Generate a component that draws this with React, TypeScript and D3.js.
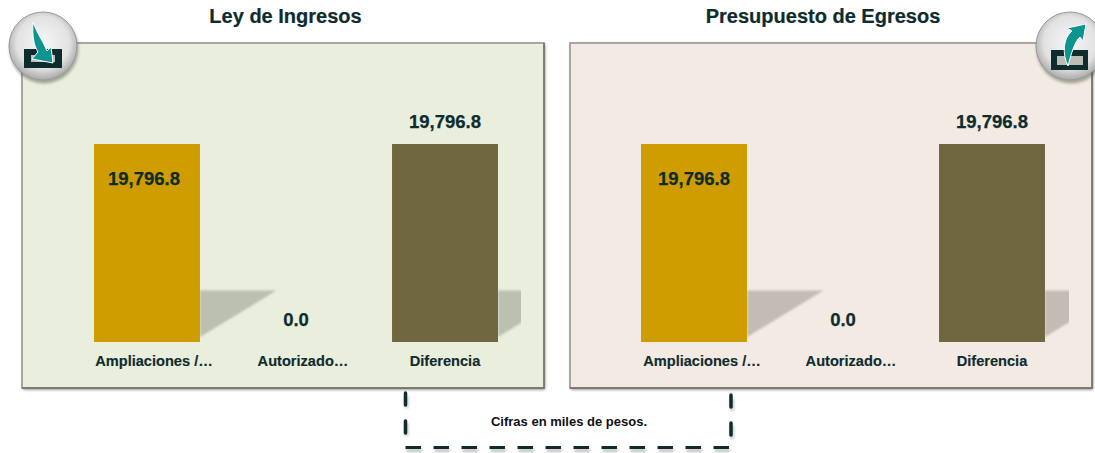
import React from "react";
import * as d3 from "d3";

const categories = ["Ampliaciones /…", "Autorizado…", "Diferencia"];
const ingresos = [19796.8, 0, 19796.8];
const egresos = [19796.8, 0, 19796.8];
const barColors = ["#cf9d00", "#cf9d00", "#706640"];
const dark = "#0e2c2e";
const FONT = "'Liberation Sans', Arial, sans-serif";
const fmt = d3.format(",.1f");

type PanelProps = { x: number; title: string; titleX: number; values: number[]; fill: string; shade: string; id: string; firstLabelDy: number; barShift: number; labelShift: number };

function Panel({ x, title, titleX, values, fill, shade, id, firstLabelDy, barShift, labelShift }: PanelProps) {
  const w = 522, h = 345, top = 43;
  const xs = d3.scaleBand<string>().domain(categories).range([x + 50.5 + barShift, x + 497.5 + barShift]).paddingInner(0.289).paddingOuter(0.1445);
  const ys = d3.scaleLinear().domain([0, 19796.8]).range([342, 144]);
  const bw = xs.bandwidth();
  return (
    <g>
      <text x={titleX} y={23} textAnchor="middle" fontSize={20} fontWeight="bold" fill={dark} stroke={dark} strokeWidth={0.2}>{title}</text>
      <defs>
        <clipPath id={id}><rect x={x + 22} y={top} width={477} height={h} /></clipPath>
      </defs>
      <rect x={x + 1} y={top + 1} width={w} height={h + 0.5} fill="#000" opacity={0.5} filter="url(#soft)" />
      <rect x={x} y={top} width={w} height={h} fill={fill} stroke="#96968e" strokeWidth={1.6} />
      <path d={`M${x + w},${top} V${top + h} H${x}`} fill="none" stroke="#6f6f68" strokeWidth={1.4} />
      {categories.map((c, i) => {
        const v = values[i];
        const bx = xs(c)!;
        const y0 = ys(v);
        const shH = (ys(0) - y0) * 0.26;
        const shTop = ys(0) - shH;
        return (
          <g key={c}>
            {v > 0 && (
              <g clipPath={`url(#${id})`}>
                <path
                  d={`M${bx + bw},${shTop} L${bx + bw + 76.5},${shTop} L${bx + bw},${ys(0) - 5} Z`}
                  fill={shade}
                  filter="url(#blur1)"
                />
              </g>
            )}
            {v > 0 && <rect x={bx} y={y0} width={bw} height={ys(0) - y0} fill={barColors[i]} />}
            <text
              x={bx + bw / 2 + (i === 0 ? firstLabelDy : 0)}
              y={i === 0 ? y0 + 41 : y0 - 16}
              textAnchor="middle"
              fontSize={18.5}
              fontWeight="bold"
              fill={dark}
              stroke={dark}
              strokeWidth={0.25}
            >
              {fmt(v)}
            </text>
            <text x={bx + bw / 2 + (i < 2 ? labelShift : 0)} y={366} textAnchor="middle" fontSize={14.6} fontWeight="bold" fill={dark} stroke={dark} strokeWidth={0.15}>
              {c}
            </text>
          </g>
        );
      })}
    </g>
  );
}

function Badge({ cx, cy, up }: { cx: number; cy: number; up: boolean }) {
  return (
    <g>
      <circle cx={cx + 1} cy={cy + 3} r={34.5} fill="#2e3a20" opacity={0.4} filter="url(#soft)" />
      <circle cx={cx} cy={cy} r={34} fill="url(#ball)" stroke="#9a9a9a" strokeWidth={1} />
      {up ? (
        <g>
          <rect x={cx - 19} y={cy + 4} width={37} height={20} fill={dark} />
          <rect x={cx - 13} y={cy + 10} width={26} height={9} fill="#bdbdb8" />
          <path
            d={`M${cx - 2},${cy + 20} C${cx - 8},${cy + 8} ${cx - 7},${cy - 8} ${cx + 2},${cy - 15} L${cx - 3},${cy - 18} L${cx + 16},${cy - 22} L${cx + 13},${cy - 5} L${cx + 10},${cy - 9} C${cx + 5},${cy - 5} ${cx + 1},${cy + 8} ${cx - 2},${cy + 20} Z`}
            fill="#0c948e"
            stroke="#fff"
            strokeWidth={1}
            strokeLinejoin="round"
          />
        </g>
      ) : (
        <g>
          <rect x={cx - 19} y={cy + 3} width={38} height={19} fill={dark} />
          <rect x={cx - 12} y={cy + 9} width={24} height={7} fill="#bdbdb8" />
          <path
            d={`M${cx - 10},${cy - 24} C${cx - 11},${cy - 10} ${cx - 9},${cy} ${cx - 5},${cy + 6} L${cx - 11},${cy + 13} L${cx + 10},${cy + 17} L${cx + 8},${cy + 1} L${cx + 4},${cy + 5} C${cx + 1},${cy - 3} ${cx - 5},${cy - 11} ${cx - 10},${cy - 24} Z`}
            fill="#0c948e"
            stroke="#fff"
            strokeWidth={1}
            strokeLinejoin="round"
          />
        </g>
      )}
    </g>
  );
}

export default function App() {
  const bottom = "M405.5,447.5 H729";
  return (
    <svg
      width={1095}
      height={453}
      viewBox="0 0 1095 453"
      style={{ position: "absolute", left: 0, top: 0, fontFamily: FONT }}
    >
      <defs>
        <filter id="soft" x="-20%" y="-20%" width="140%" height="140%"><feGaussianBlur stdDeviation="1.5" /></filter>
        <filter id="blur1" x="-20%" y="-20%" width="140%" height="140%"><feGaussianBlur stdDeviation="0.8" /></filter>
        <radialGradient id="ball" cx="0.5" cy="0.45" r="0.55">
          <stop offset="0" stopColor="#f6f6f6" />
          <stop offset="0.7" stopColor="#e2e2e2" />
          <stop offset="1" stopColor="#a9a9a9" />
        </radialGradient>
      </defs>
      <Panel x={22} title="Ley de Ingresos" titleX={285.5} values={ingresos} fill="#eaeedd" shade="#bcc0b0" id="cl" firstLabelDy={-3} barShift={0} labelShift={7} />
      <Panel x={570} title="Presupuesto de Egresos" titleX={823} values={egresos} fill="#f3eae4" shade="#c4bbb5" id="cr" firstLabelDy={0} barShift={-1} labelShift={8} />
      <Badge cx={43} cy={46} up={false} />
      <Badge cx={1070} cy={46} up={true} />
      <g opacity={0.22} filter="url(#soft)" transform="translate(1,3)" fill="none" stroke="#000" strokeWidth={4}>
        <path d="M405.5,393 V405 M405.5,420 V433 M731,395 V408 M731,422 V436" />
        <path d={bottom} strokeDasharray="15.5 12.5" />
      </g>
      <g stroke={dark} fill="none" strokeWidth={3.5} strokeLinecap="round">
        <path d="M405.5,393 V405 M405.5,421 V433" />
        <path d="M731,395 V407 M731,423 V435" />
      </g>
      <path d={bottom} stroke={dark} fill="none" strokeWidth={3} strokeDasharray="15.5 12.5" />
      <text x={569} y={426} textAnchor="middle" fontSize={13} fontWeight="bold" fill="#111">Cifras en miles de pesos.</text>
    </svg>
  );
}
